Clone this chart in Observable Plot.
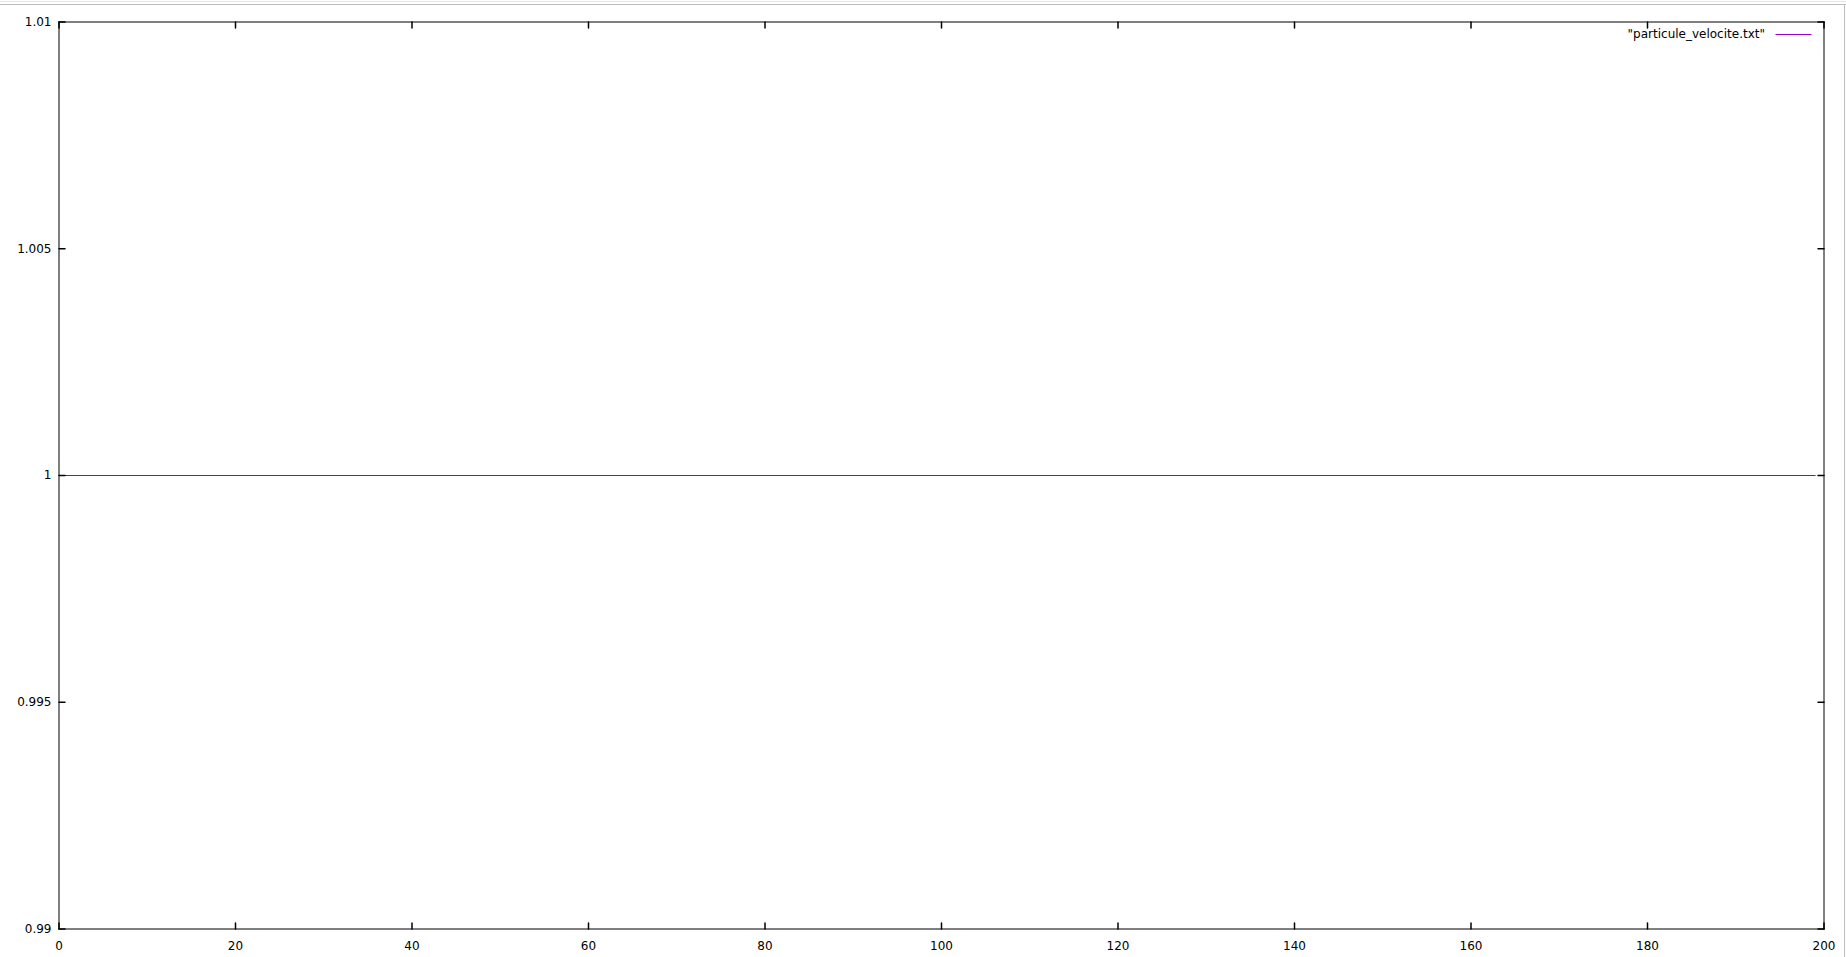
<!DOCTYPE html>
<html>
<head>
<meta charset="utf-8">
<script src="https://cdn.jsdelivr.net/npm/d3@7"></script>
<script src="https://cdn.jsdelivr.net/npm/@observablehq/plot@0.6"></script>
<style>
  html, body { margin: 0; padding: 0; background: #fff; }
  #wrap { position: relative; width: 1846px; height: 957px; overflow: hidden; }
  #chart svg { display: block; }
  .deco { position: absolute; pointer-events: none; }
</style>
</head>
<body>
<div id="wrap">
  <div id="chart"></div>
  <div class="deco" style="left:0;top:1px;width:1846px;height:1px;background:#e4e4e4"></div>
  <div class="deco" style="left:0;top:4px;width:1846px;height:1px;background:#bdbdbd"></div>
  <div class="deco" style="left:1844px;top:5px;width:1px;height:952px;background:#bdbdbd"></div>
</div>
<script>
// ---- data ----
const seriesName = "\"particule_velocite.txt\"";
const timeValues = [0, 10, 20, 30, 40, 50, 60, 70, 80, 90, 100, 110, 120, 130, 140, 150, 160, 170, 180, 190, 199];
const velocityValues = [1, 1, 1, 1, 1, 1, 1, 1, 1, 1, 1, 1, 1, 1, 1, 1, 1, 1, 1, 1, 1];
const xTicks = [0, 20, 40, 60, 80, 100, 120, 140, 160, 180, 200];
const yTicks = [0.99, 0.995, 1, 1.005, 1.01];
const yTickLabels = ["0.99", "0.995", "1", "1.005", "1.01"];
const xDomain = [0, 200];
const yDomain = [0.99, 1.01];

const data = timeValues.map((t, i) => ({t, v: velocityValues[i]}));
const lineColor = "#9400d3";
const tickLen = 6;
const lineShape = {
  draw(context, l) { context.moveTo(0, 0); context.lineTo(0, -l); }
};

const plot = Plot.plot({
  width: 1846,
  height: 957,
  marginLeft: 58.5,
  marginRight: 22.5,
  marginTop: 21.5,
  marginBottom: 28.5,
  style: { fontFamily: "DejaVu Sans, sans-serif", fontSize: "12px", color: "#000", background: "#fff" },
  x: { domain: xDomain, ticks: xTicks },
  y: { domain: yDomain, ticks: yTicks, tickFormat: (d) => yTickLabels[yTicks.indexOf(d)] },
  marks: [
    Plot.line(data, { x: "t", y: "v", stroke: lineColor, strokeWidth: 1.2 }),
    Plot.frame({ stroke: "#000", strokeWidth: 1 }),
    // inward ticks, all four sides
    Plot.vector(xTicks, { x: d => d, y: yDomain[0], length: tickLen, anchor: "start", rotate: 0, shape: lineShape, stroke: "#000" }),
    Plot.vector(xTicks, { x: d => d, y: yDomain[1], length: tickLen, anchor: "start", rotate: 180, shape: lineShape, stroke: "#000" }),
    Plot.vector(yTicks, { y: d => d, x: xDomain[0], length: tickLen, anchor: "start", rotate: 90, shape: lineShape, stroke: "#000" }),
    Plot.vector(yTicks, { y: d => d, x: xDomain[1], length: tickLen, anchor: "start", rotate: -90, shape: lineShape, stroke: "#000" }),
    Plot.axisX({ ticks: xTicks, tickSize: 0, tickPadding: 12, label: null, fontSize: 12 }),
    Plot.axisY({ ticks: yTicks, tickSize: 0, tickPadding: 7.5, label: null, fontSize: 12, tickFormat: (d) => yTickLabels[yTicks.indexOf(d)] }),
    // legend
    Plot.text([seriesName], { text: d => d, frameAnchor: "top-right", dx: -59, dy: 12.5, textAnchor: "end", lineAnchor: "middle", fill: "#000", fontSize: 12 }),
    Plot.vector([seriesName], { frameAnchor: "top-right", dx: -13, dy: 12.5, length: 35, anchor: "start", rotate: -90, shape: lineShape, stroke: lineColor, strokeWidth: 1.2 })
  ]
});
document.getElementById("chart").appendChild(plot);
</script>
</body>
</html>
